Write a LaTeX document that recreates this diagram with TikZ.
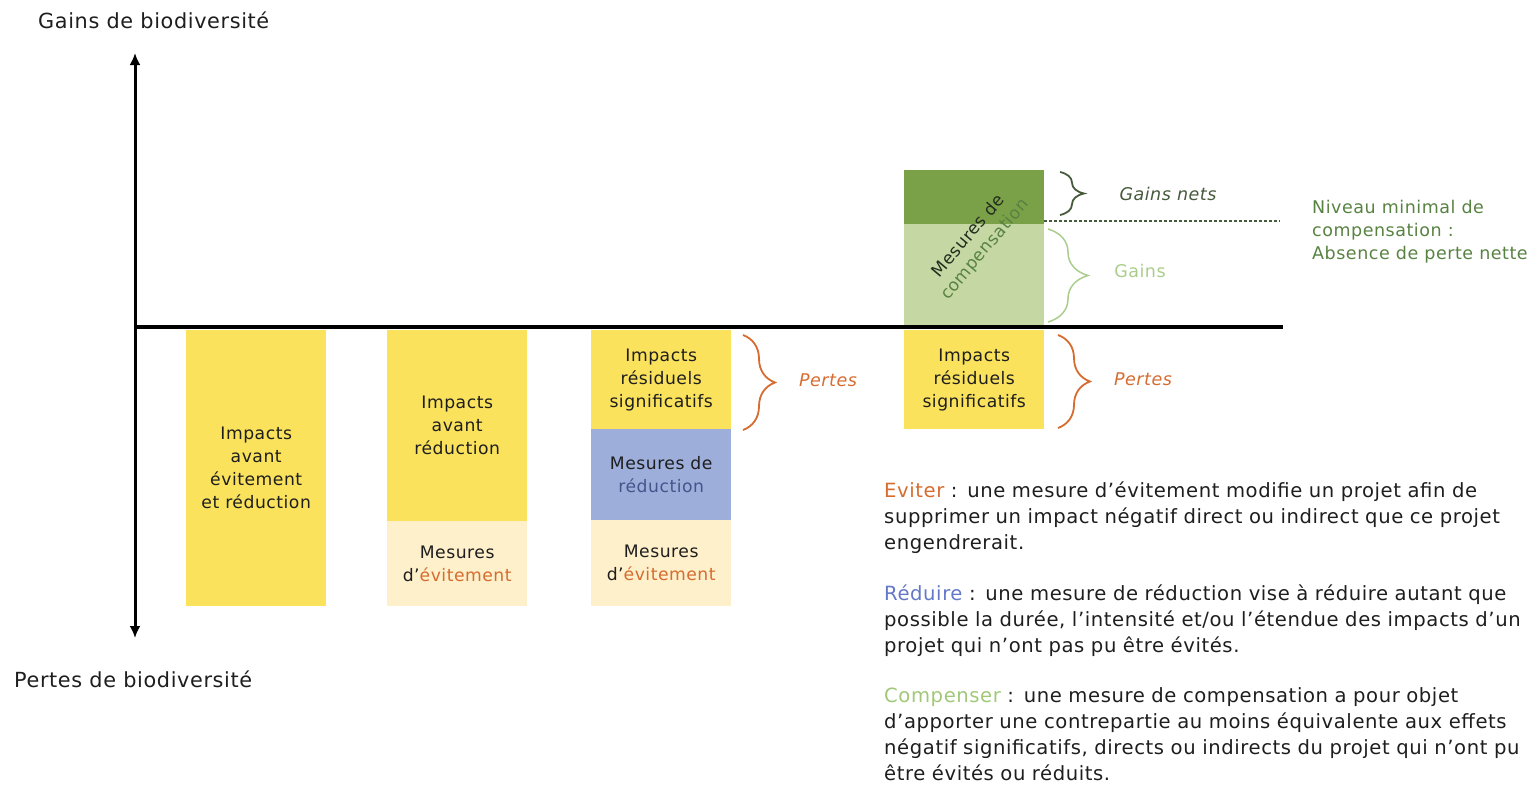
\documentclass[tikz,border=0pt]{standalone}
\usepackage{fontspec}
\setmainfont{DejaVu Sans}[LetterSpace=3]
\usetikzlibrary{decorations.pathreplacing,arrows.meta}
\definecolor{cyel}{RGB}{250,226,92}
\definecolor{ccream}{RGB}{253,240,203}
\definecolor{cblue}{RGB}{157,174,219}
\definecolor{clgreen}{RGB}{197,216,164}
\definecolor{cdgreen}{RGB}{122,161,72}
\definecolor{corange}{RGB}{214,108,48}
\definecolor{ctxt}{RGB}{30,30,30}
\definecolor{cgtxt}{RGB}{88,130,66}
\definecolor{cbrace}{RGB}{70,90,60}
\definecolor{clbrace}{RGB}{170,205,140}
\definecolor{cblt}{RGB}{100,120,200}
\definecolor{clg}{RGB}{160,200,120}
\tikzset{
  bar/.style={draw=none, minimum width=140pt, anchor=north west, inner sep=0pt, align=center, text=ctxt, font=\fontsize{17.2}{23}\selectfont},
  lbl/.style={inner sep=0pt, font=\fontsize{20.8}{24}\selectfont, text=ctxt},
  blab/.style={inner sep=0pt, font=\fontsize{17.5}{22}\selectfont\itshape},
  brc/.style={decorate, decoration={brace, amplitude=22pt, aspect=0.5}, line width=1.8pt},
  legend/.style={inner sep=0pt, anchor=north west, align=left, text width=660pt, font=\fontsize{19.6}{26}\selectfont, text=ctxt},
  axarrow/.style={line width=3pt, -{Latex[length=12pt,width=11pt]}},
}
\begin{document}
\begin{tikzpicture}[x=1pt,y=-1pt]
\useasboundingbox (0,0) rectangle (1539,787);
% bars
\node[bar, fill=cyel, minimum height=276pt] (b1) at (186,330) {Impacts\\avant\\évitement\\et réduction};
\node[bar, fill=cyel, minimum height=191pt] (b2a) at (387,330) {Impacts\\avant\\réduction};
\node[bar, fill=ccream, minimum height=85pt] (b2b) at (387,521) {Mesures\\d'{\color{corange}évitement}};
\node[bar, fill=cyel, minimum height=99pt] (b3a) at (591,330) {Impacts\\résiduels\\significatifs};
\node[bar, fill=cblue, minimum height=91pt] (b3b) at (591,429) {Mesures de\\{\color{cblt!70!black}réduction}};
\node[bar, fill=ccream, minimum height=86pt] (b3c) at (591,520) {Mesures\\d'{\color{corange}évitement}};
\node[bar, fill=cyel, minimum height=99pt] (b4a) at (904,330) {Impacts\\résiduels\\significatifs};
\node[bar, fill=clgreen, minimum height=103pt] (b4b) at (904,224) {};
\node[bar, fill=cdgreen, minimum height=54pt] (b4c) at (904,170) {};
\node[rotate=50, align=center, inner sep=0pt, font=\fontsize{17}{21}\selectfont] (comp) at (977,243) {{\color{cbrace!50!black}Mesures de}\\{\color{cgtxt}compensation}};
% axes
\coordinate (o) at (135,327);
\coordinate (top) at (135,53);
\coordinate (bot) at (135,638);
\coordinate (right) at (1283,327);
\draw[axarrow] (o) -- (top);
\draw[axarrow] (o) -- (bot);
\draw[line width=4pt] (o) -- (right);
% dashed level
\coordinate (d1) at (1044,221);
\coordinate (d2) at (1280,221);
\draw[cbrace, dashed, dash pattern=on 3pt off 2pt, line width=1.5pt] (d1) -- (d2);
% braces
\coordinate (g1) at (1060,172); \coordinate (g2) at (1060,215);
\draw[brc, cbrace, decoration={amplitude=24pt}] (g1) -- (g2);
\node[blab, text=cbrace] (gn) at (1168,194) {Gains nets};
\coordinate (h1) at (1048,229); \coordinate (h2) at (1048,322);
\draw[brc, clbrace, line width=1.5pt, decoration={amplitude=40pt}] (h1) -- (h2);
\node[blab, text=clbrace, font=\fontsize{17.5}{22}\selectfont\upshape] (gl) at (1140,271) {Gains};
\coordinate (p1) at (743,335); \coordinate (p2) at (743,430);
\draw[brc, corange, decoration={amplitude=32pt}] (p1) -- (p2);
\node[blab, text=corange] (pl1) at (828,380) {Pertes};
\coordinate (q1) at (1058,335); \coordinate (q2) at (1058,428);
\draw[brc, corange, decoration={amplitude=32pt}] (q1) -- (q2);
\node[blab, text=corange] (pl2) at (1143,379) {Pertes};
% labels
\node[lbl, anchor=west] (gains) at (38,20) {Gains de biodiversité};
\node[lbl, anchor=west] (pertes) at (14,679) {Pertes de biodiversité};
\node[inner sep=0pt, anchor=north west, align=left, text=cgtxt, font=\fontsize{17.5}{23}\selectfont] (niv) at (1312,200) {Niveau minimal de\\compensation :\\Absence de perte nette};
% legend
\node[legend] (le) at (884,482) {{\color{corange}Eviter} : une mesure d’évitement modifie un projet afin de\\supprimer un impact négatif direct ou indirect que ce projet\\engendrerait.};
\node[legend] (lr) at (884,585) {{\color{cblt}Réduire} : une mesure de réduction vise à réduire autant que\\possible la durée, l’intensité et/ou l’étendue des impacts d’un\\projet qui n’ont pas pu être évités.};
\node[legend] (lc) at (884,687) {{\color{clg}Compenser} : une mesure de compensation a pour objet\\d’apporter une contrepartie au moins équivalente aux effets\\négatif significatifs, directs ou indirects du projet qui n’ont pu\\être évités ou réduits.};
\end{tikzpicture}
\end{document}
